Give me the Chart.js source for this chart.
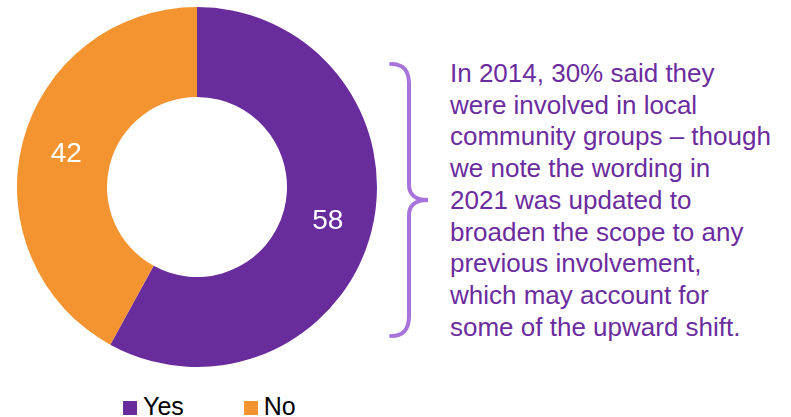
<!DOCTYPE html>
<html>
<head>
<meta charset="utf-8">
<script src="https://cdn.jsdelivr.net/npm/chart.js@4/dist/chart.umd.min.js"></script>
<style>
  html, body { margin: 0; padding: 0; background: #fff; }
  body { width: 791px; height: 417px; position: relative; overflow: hidden; font-family: Arial, "Liberation Sans", sans-serif; }
  #pieWrap { position: absolute; left: 17px; top: 7px; width: 360px; height: 360px; }
  #legend { position: absolute; left: 123px; top: 392px; font-size: 25px; color: #000; white-space: nowrap; }
  #legend span.item { display: inline-block; position: relative; padding-left: 20px; line-height: 25px; }
  #legend span.box { position: absolute; left: 0; top: 7px; width: 14px; height: 14px; }
  #brace { position: absolute; left: 385px; top: 58px; }
  #note { position: absolute; left: 450px; top: 58px; width: 340px; font-size: 26px; line-height: 31.7px; color: #6B2C9E; }
</style>
</head>
<body>
<div id="pieWrap"><canvas id="involvedPie" width="360" height="360"></canvas></div>
<div id="legend"></div>

<svg id="brace" width="50" height="290">
  <path d="M6 6 C18 6 24 12 24 26 L24 127 C24 136 30 142 43 142 C30 142 24 148 24 157 L24 258 C24 272 18 278 6 278"
        fill="none" stroke="#A874DB" stroke-width="4" stroke-linecap="round"/>
</svg>

<div id="note">In 2014, 30% said they<br>were involved in local<br>community groups – though<br>we note the wording in<br>2021 was updated to<br>broaden the scope to any<br>previous involvement,<br>which may account for<br>some of the upward shift.</div>

<script>
// involvement in local community groups, 2021
var categories = ["Yes", "No"];
var values = [58, 42];
var colours = ["#692C9C", "#F39431"];

// writes each slice's value in the middle of its ring segment
var sliceValues = {
    id: 'sliceValues',
    afterDatasetsDraw: function (chart) {
        var ctx = chart.ctx;
        var meta = chart.getDatasetMeta(0);
        ctx.save();
        ctx.fillStyle = '#fff';
        ctx.font = '28px Arial, "Liberation Sans", sans-serif';
        ctx.textAlign = 'center';
        ctx.textBaseline = 'middle';
        meta.data.forEach(function (arc, i) {
            var pos = arc.tooltipPosition();
            ctx.fillText(String(chart.data.datasets[0].data[i]), pos.x, pos.y + 1);
        });
        ctx.restore();
    }
};

var pieChart = new Chart(document.getElementById("involvedPie"), {
    type: 'doughnut',
    data: {
        labels: categories,
        datasets: [{
            data: values,
            backgroundColor: colours,
            borderWidth: 0
        }]
    },
    options: {
        responsive: false,
        animation: false,
        cutout: '50%',
        layout: { padding: 0 },
        plugins: {
            legend: { display: false },
            tooltip: { enabled: false }
        }
    },
    plugins: [sliceValues]
});

// legend built from the same labels and colours
var legendEl = document.getElementById("legend");
categories.forEach(function (name, i) {
    var item = document.createElement('span');
    item.className = 'item';
    if (i > 0) item.style.marginLeft = '60px';
    var box = document.createElement('span');
    box.className = 'box';
    box.style.background = colours[i];
    item.appendChild(box);
    item.appendChild(document.createTextNode(name));
    legendEl.appendChild(item);
});
</script>
</body>
</html>
